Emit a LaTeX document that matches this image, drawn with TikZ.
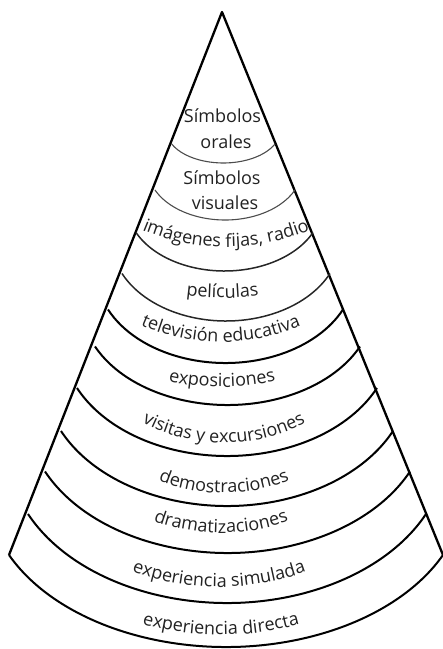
\documentclass[tikz,border=0pt]{standalone}
\usepackage{fontspec}
\setmainfont{Open Sans}
\usetikzlibrary{decorations.text}
\definecolor{txt}{HTML}{222222}
\newcommand{\lblfont}{\fontsize{18}{21}\selectfont}
% #1 centre x, #2 baseline (image y, from top), #3 radius of the baseline arc, #4 text
\newcommand{\arclabel}[4]{%
  \path[decorate,decoration={text along path,text align=center,
        text={|\lblfont\color{txt}|#4}}]
    plot[domain=225:315,samples=121] ({#1+#3*cos(\x)},{649-#2+#3+#3*sin(\x)});}
% #1 style, #2 left end, #3 half chord, #4 sag
\newcommand{\bandarc}[4]{%
  \draw[#1] (#2) arc[start angle=205,end angle=335,
        x radius={#3/cos(25)},y radius={#4/(1-sin(25))}];}
\begin{document}
\begin{tikzpicture}[x=1pt,y=1pt,
  band/.style={line width=2pt,black},
  midband/.style={line width=1.5pt,black!85},
  thinband/.style={line width=1.1pt,black!70},
  side/.style={line width=2.3pt,black,line join=round},
  lbl/.style={font=\lblfont,text=txt,inner sep=0pt,anchor=base}]
\useasboundingbox (0,0) rectangle (443,649);
\coordinate (apex) at (222,637);
\coordinate (bl) at (9,94);
\coordinate (br) at (443,94);
% cone sides
\draw[side] (bl) -- (apex) -- (br);
% band boundaries (front parts of the sections)
\bandarc{thinband}{171.7,505}{51.65}{19}
\bandarc{thinband}{155,459}{70}{30}
\bandarc{midband}{136,416.5}{88.5}{38.5}
\bandarc{midband}{122,375.5}{104}{47.5}
\bandarc{band}{108,339.5}{117.5}{53.5}
\bandarc{band}{95,302.5}{132.5}{58.5}
\bandarc{band}{77,261}{150}{68}
\bandarc{band}{61,218}{166}{75}
\bandarc{band}{45,177.5}{182.5}{81.5}
\bandarc{band}{28,135}{199}{89}
\bandarc{band}{bl}{217}{92}
% straight labels at the top
\node[lbl] (so1) at (222.5,526) {Símbolos};
\node[lbl] (so2) at (226,500) {orales};
\node[lbl] (sv1) at (222,464) {Símbolos};
\node[lbl] (sv2) at (225,439) {visuales};
% curved labels
\arclabel{226}{247}{217}{imágenes fijas, radio}
\arclabel{222.5}{298}{268}{películas}
\arclabel{221}{342}{201}{televisión educativa}
\arclabel{222}{387}{246}{exposiciones}
\arclabel{224}{443}{174}{visitas y excursiones}
\arclabel{224}{493}{174}{demostraciones}
\arclabel{221}{533}{199}{dramatizaciones}
\arclabel{219}{587}{254}{experiencia simulada}
\arclabel{221}{635}{289}{experiencia directa}
\end{tikzpicture}
\end{document}
